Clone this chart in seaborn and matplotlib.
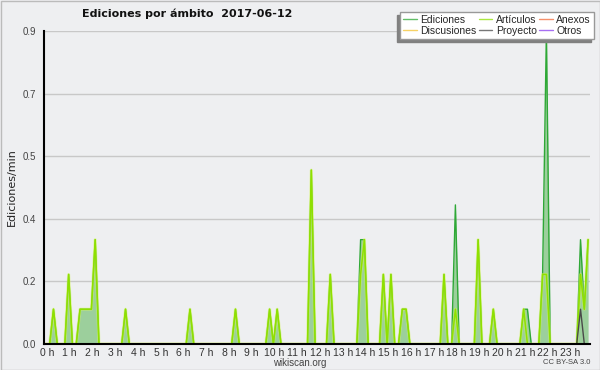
import numpy as np
import pandas as pd
import matplotlib
matplotlib.use('Agg')
import matplotlib.pyplot as plt
import matplotlib.transforms as mtransforms
from matplotlib.lines import Line2D
from matplotlib.patches import Rectangle
import seaborn as sns

# ===============================
# Data: edits per minute, 10-minute bins (bin index -> value)
# ===============================
n_bins = 144
hour_labels = [f"{h} h" for h in range(24)]

ediciones_bins = [2, 6, 9, 10, 11, 12, 13, 21, 38, 50, 59, 61, 70, 75, 83, 84,
                  89, 91, 94, 95, 105, 108, 114, 118, 126, 127, 131, 132,
                  141, 142, 143]
ediciones_vals = [0.1, 0.2, 0.1, 0.1, 0.1, 0.1, 0.3, 0.1, 0.1, 0.1, 0.1, 0.1,
                  0.5, 0.2, 0.3, 0.3, 0.2, 0.2, 0.1, 0.1, 0.2, 0.4, 0.3, 0.1,
                  0.1, 0.1, 0.2, 0.9, 0.3, 0.1, 0.3]

articulos_bins = [2, 6, 9, 10, 11, 12, 13, 21, 38, 50, 59, 61, 70, 75, 83, 84,
                  89, 91, 94, 95, 105, 108, 114, 118, 126, 131, 132,
                  141, 142, 143]
articulos_vals = [0.1, 0.2, 0.1, 0.1, 0.1, 0.1, 0.3, 0.1, 0.1, 0.1, 0.1, 0.1,
                  0.5, 0.2, 0.2, 0.3, 0.2, 0.2, 0.1, 0.1, 0.2, 0.1, 0.3, 0.1,
                  0.1, 0.2, 0.2, 0.2, 0.1, 0.3]

proyecto_bins = [141]
proyecto_vals = [0.1]

discusiones_bins, discusiones_vals = [], []
anexos_bins, anexos_vals = [], []
otros_bins, otros_vals = [], []


def to_series(bins, vals):
    arr = np.zeros(n_bins)
    arr[bins] = vals
    return arr


df = pd.DataFrame({
    'hora': (np.arange(n_bins) + 0.5) / 6,
    'Ediciones': to_series(ediciones_bins, ediciones_vals),
    'Artículos': to_series(articulos_bins, articulos_vals),
    'Proyecto': to_series(proyecto_bins, proyecto_vals),
    'Discusiones': to_series(discusiones_bins, discusiones_vals),
    'Anexos': to_series(anexos_bins, anexos_vals),
    'Otros': to_series(otros_bins, otros_vals),
})

colors = {
    'Ediciones': '#2ea836',
    'Discusiones': '#f5c431',
    'Artículos': '#8fe000',
    'Proyecto': '#4a4a4a',
    'Anexos': '#f26b3a',
    'Otros': '#8a3ff0',
}

# ===============================
# Plot
# ===============================
bg = '#eeeff1'
sns.set_style('white')
plt.rcParams['font.family'] = ['DejaVu Sans']

fig = plt.figure(figsize=(6, 3.7), dpi=100, facecolor=bg)
ax = fig.add_axes([44 / 600, 1 - 344 / 370, 546 / 600, 313 / 370])
ax.set_facecolor(bg)

ax.fill_between(df['hora'], df['Ediciones'], color='#9ccf9c', lw=0, zorder=1)

for name in ['Discusiones', 'Anexos', 'Otros']:
    sns.lineplot(data=df, x='hora', y=name, ax=ax, color=colors[name],
                 linewidth=1, legend=False, zorder=1.5)

sns.lineplot(data=df, x='hora', y='Ediciones', ax=ax, color=colors['Ediciones'],
             linewidth=1.0, legend=False, zorder=2)
# soft glow + core for articles
sns.lineplot(data=df, x='hora', y='Artículos', ax=ax, color='#d4f55a',
             linewidth=2.2, alpha=0.5, legend=False, zorder=2.1)
sns.lineplot(data=df, x='hora', y='Artículos', ax=ax, color=colors['Artículos'],
             linewidth=1.1, legend=False, zorder=2.2)
sns.lineplot(data=df, x='hora', y='Proyecto', ax=ax, color=colors['Proyecto'],
             linewidth=1, legend=False, zorder=2.3)

ax.set_xlim(0, 24)
ax.set_ylim(0, 0.9)

ax.set_xticks(np.arange(24))
ax.set_xticklabels(hour_labels, fontfamily='Liberation Sans')
ax.set_xticks(np.arange(0, 24, 1 / 6), minor=True)
yt = np.arange(0, 0.901, 0.18)
ax.set_yticks(yt)
ax.set_yticklabels([f"{v:.1f}" for v in yt], fontfamily='Liberation Sans')
ax.set_yticks(np.arange(0, 0.901, 0.045), minor=True)

ax.tick_params(axis='x', which='both', direction='out', length=3, width=1,
               labelsize=7.5, pad=0, colors='black', labelcolor='#333333')
ax.tick_params(axis='y', which='major', direction='out', length=5, width=1,
               labelsize=7, pad=1, colors='black', labelcolor='#444444')
ax.tick_params(axis='y', which='minor', direction='out', length=3, width=1,
               colors='black')
offset = mtransforms.ScaledTranslation(3 / 100, 0, fig.dpi_scale_trans)
for lab in ax.get_xticklabels():
    lab.set_transform(lab.get_transform() + offset)

ax.grid(axis='y', which='major', color='#c8c8c8', linewidth=1)
ax.set_axisbelow(True)
for side in ['top', 'right']:
    ax.spines[side].set_visible(False)
for side in ['left', 'bottom']:
    ax.spines[side].set_color('black')
    ax.spines[side].set_linewidth(1.5)
    ax.spines[side].set_zorder(3)

ax.set_xlabel('')
ax.set_ylabel('Ediciones/min', fontsize=8, color='#222222', labelpad=4)

fig.text(187 / 600, 1 - 14 / 370, 'Ediciones por ámbito  2017-06-12',
         fontsize=8, fontweight='bold', ha='center', va='center',
         color='#111111')
fig.text(300 / 600, 1 - 363 / 370, 'wikiscan.org', fontsize=7,
         fontfamily='Liberation Sans', ha='center', va='center',
         color='#444444')
fig.text(590 / 600, 1 - 363 / 370, 'CC BY-SA 3.0', fontsize=5.5,
         fontfamily='Liberation Sans', ha='right', va='center',
         color='#444444')

# legend (column-wise order)
order = ['Ediciones', 'Discusiones', 'Artículos', 'Proyecto', 'Anexos', 'Otros']
handles = [Line2D([], [], color=colors[n], lw=1, alpha=0.75) for n in order]
leg = fig.legend(handles, order, ncol=3, loc='upper right',
                 bbox_to_anchor=(594 / 600, 1 - 12 / 370),
                 prop={'family': 'Liberation Sans', 'size': 7.5},
                 frameon=True, fancybox=False, framealpha=1,
                 edgecolor='#999999', facecolor='white', handlelength=1.3,
                 handletextpad=0.35, columnspacing=0.2, borderpad=0.3,
                 labelspacing=0.05, borderaxespad=0)
leg.set_zorder(5)

fig.canvas.draw()
bb = leg.get_window_extent().transformed(fig.transFigure.inverted())
fig.add_artist(Rectangle((bb.x0 - 3 / 600, bb.y0 - 3 / 370), bb.width, bb.height,
                         transform=fig.transFigure, color='#808080', zorder=4))

# outer border
fig.add_artist(Rectangle((0.5 / 600, 0.5 / 370), 599 / 600, 369 / 370,
                         transform=fig.transFigure, fill=False,
                         edgecolor='#bbbbbb', linewidth=1, zorder=6))

plt.savefig('out.png', dpi=100, facecolor=bg)
